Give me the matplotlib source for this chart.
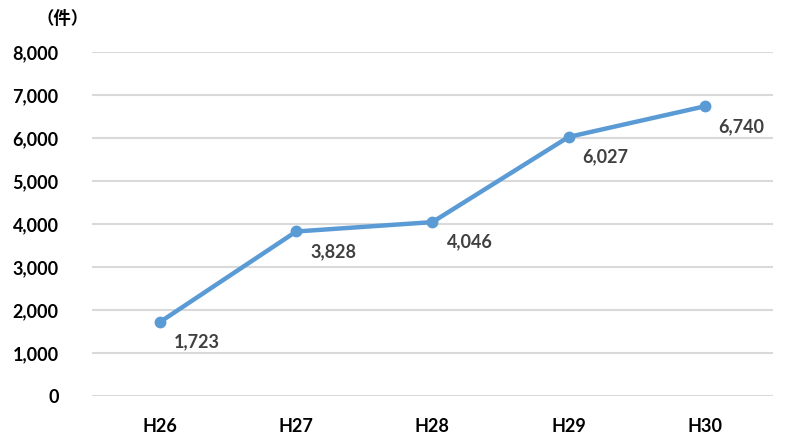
import matplotlib.pyplot as plt
from matplotlib.ticker import FuncFormatter

plt.rcParams['font.family'] = ['Lato', 'Noto Sans CJK JP', 'DejaVu Sans']

years = ['H26', 'H27', 'H28', 'H29', 'H30']
counts = [1723, 3828, 4046, 6027, 6740]
yticks = [0, 1000, 2000, 3000, 4000, 5000, 6000, 7000, 8000]

fig = plt.figure(figsize=(8, 4.42), dpi=100)
ax = fig.add_axes([0.115, 0.104, 0.851, 0.778])

x = range(len(years))
ax.plot(x, counts, color='#5b9bd5', lw=3.2, marker='o', ms=7.5, zorder=3,
        solid_capstyle='round')

for i, v in enumerate(counts):
    ax.annotate(f'{v:,}', (i, v), xytext=(37, -20), textcoords='offset pixels',
                ha='center', va='center', fontsize=13, fontweight='bold',
                color='#404040')

ax.set_xlim(-0.5, len(years) - 0.5)
ax.set_ylim(0, 8000)
ax.set_yticks(yticks)
ax.yaxis.set_major_formatter(FuncFormatter(lambda v, p: f'{int(v):,}'))
ax.set_xticks(list(x))
ax.set_xticklabels(years)
ax.grid(axis='y', color='#d9d9d9', lw=1.5)
ax.set_axisbelow(True)
for s in ax.spines.values():
    s.set_visible(False)
ax.tick_params(length=0, labelsize=13, colors='black', pad=0)
ax.tick_params(axis='y', pad=24)
ax.tick_params(axis='x', pad=16)
for t in ax.get_xticklabels() + ax.get_yticklabels():
    t.set_fontweight('bold')

fig.text(0.078, 0.957, '（件）', fontsize=12.5, fontweight='bold', ha='center',
         va='center', family=['Noto Sans CJK JP', 'DejaVu Sans'])

fig.savefig('out.png', dpi=100)
